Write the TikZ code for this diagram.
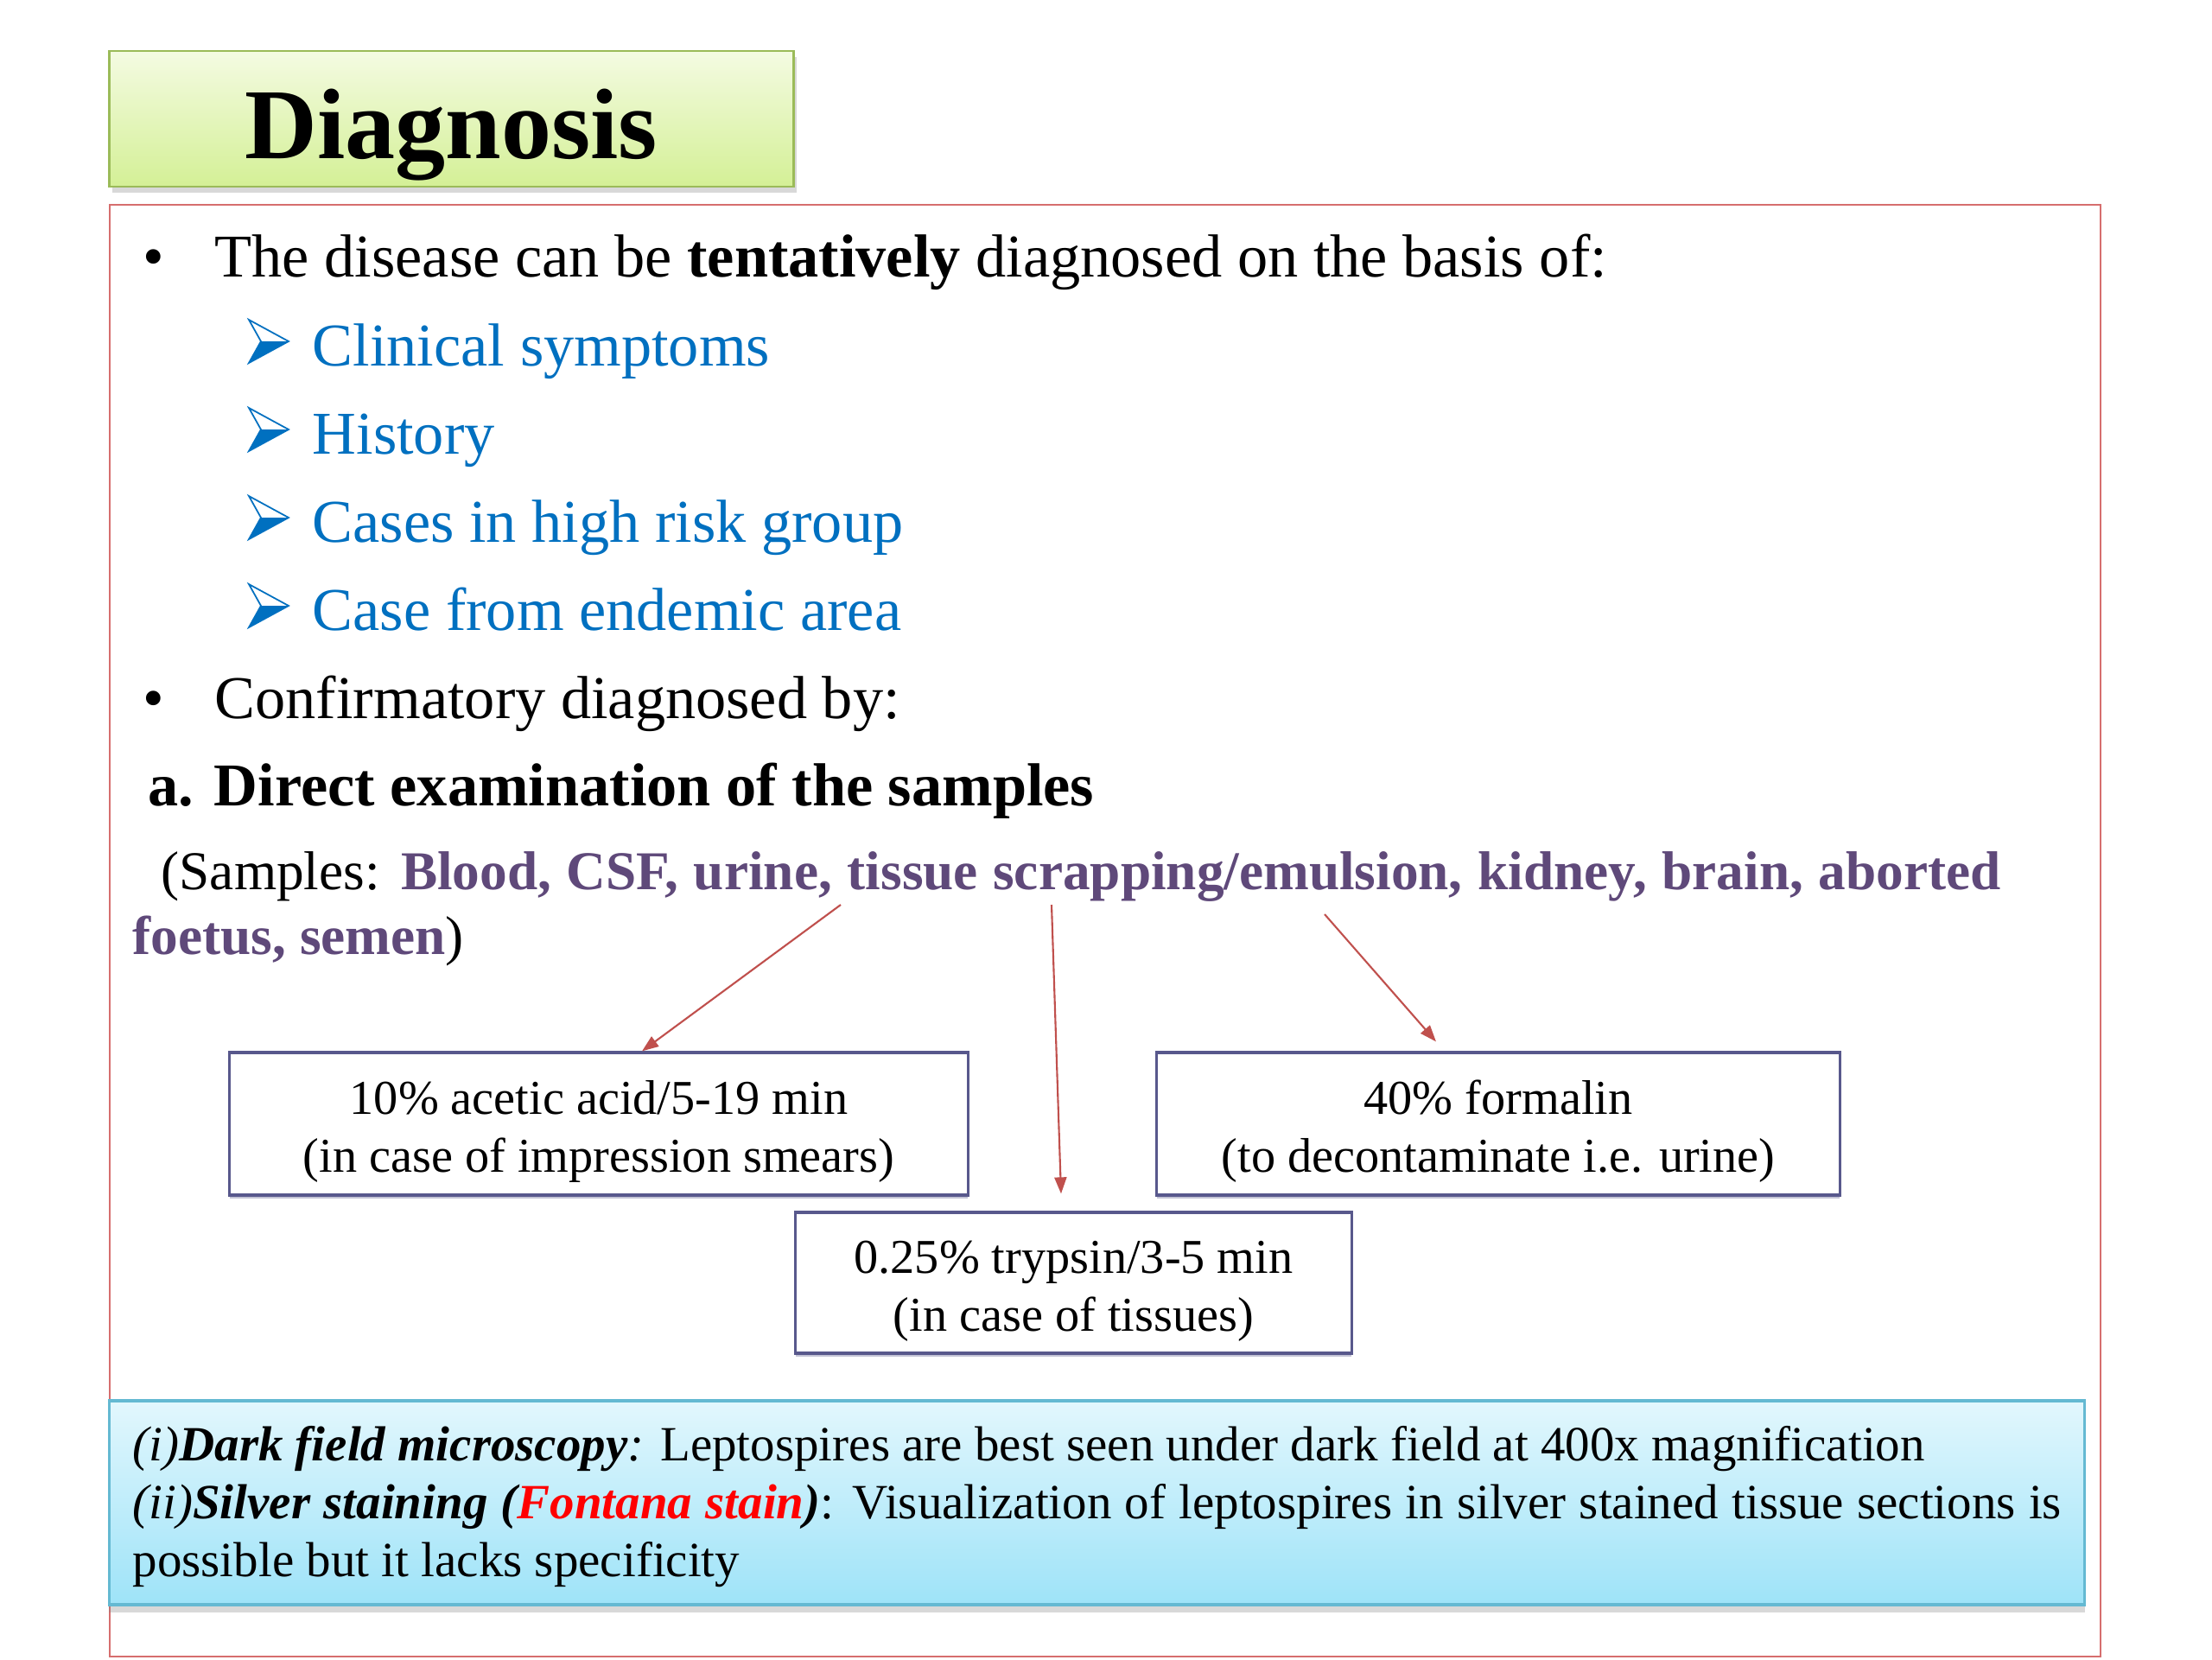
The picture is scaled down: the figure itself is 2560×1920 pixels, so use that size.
\documentclass[tikz,border=0pt]{standalone}
\usepackage{fontspec}
\setmainfont{Liberation Serif}
\usetikzlibrary{shadows,arrows.meta}
\definecolor{tblue}{RGB}{0,112,192}
\definecolor{tpurple}{RGB}{95,73,122}
\definecolor{arred}{RGB}{192,80,77}
\definecolor{framered}{RGB}{214,110,110}
\definecolor{boxline}{RGB}{88,88,140}
\definecolor{titletop}{RGB}{244,251,226}
\definecolor{titlebot}{RGB}{212,240,150}
\definecolor{titleline}{RGB}{155,187,89}
\definecolor{bluetop}{RGB}{226,247,253}
\definecolor{bluebot}{RGB}{158,227,248}
\definecolor{blueline}{RGB}{100,185,210}
\tikzset{
  txt/.style={anchor=base west, inner sep=0pt},
  main/.style={txt, font=\fontsize{20}{24}\selectfont},
  sub/.style={main, text=tblue},
  stepbox/.style={draw=boxline, line width=0.9pt, fill=white, align=center,
    inner sep=0pt, font=\fontsize{16}{19}\selectfont,
    drop shadow={shadow xshift=0pt, shadow yshift=-1.2pt, opacity=0.35, fill=boxline}},
  arr/.style={draw=arred, line width=0.6pt, -{Triangle[length=0.19cm,width=0.14cm]}, arred},
  infotxt/.style={txt, font=\fontsize{16.2}{19}\selectfont},
  pics/ptrmark/.style={code={
    \fill[tblue] (14,0) -- (46,0) -- (0,25) -- cycle;
    \draw[tblue, line width=0.5pt, line join=miter] (14,0) -- (0,-25) -- (46,0) -- (0,25) -- cycle;
  }},
}
\begin{document}
\begin{tikzpicture}[x=0.01cm,y=-0.01cm]
\path[use as bounding box, fill=white] (0,0) rectangle (2560,1920);
% frame
\draw[framered, line width=0.6pt] (127,237) rectangle (2431,1917);
% title
\node[draw=titleline, line width=0.8pt, top color=titletop, bottom color=titlebot,
  minimum width=7.91cm, minimum height=1.57cm, inner sep=0pt,
  drop shadow={shadow xshift=1pt, shadow yshift=-2pt, opacity=0.3}] (title) at (522.5,137.5) {};
\node[anchor=base, inner sep=0pt, font=\fontsize{33}{40}\selectfont\bfseries] (titletxt) at (522.5,183) {Diagnosis};
% bullets
\node[main] (b1) at (165,320) {•};
\node[main] (l1) at (248,320) {The disease can be \textbf{tentatively} diagnosed on the basis of:};
\pic at (288,395) {ptrmark};
\node[sub] (s1) at (361,423) {Clinical symptoms};
\pic at (288,497) {ptrmark};
\node[sub] (s2) at (361,525) {History};
\pic at (288,599) {ptrmark};
\node[sub] (s3) at (361,627) {Cases in high risk group};
\pic at (288,701) {ptrmark};
\node[sub] (s4) at (361,729) {Case from endemic area};
\node[main] (b2) at (165,831) {•};
\node[main] (l2) at (248,831) {Confirmatory diagnosed by:};
\node[main, font=\fontsize{20}{24}\selectfont\bfseries] (l3) at (171,932) {a. Direct examination of the samples};
\node[txt, font=\fontsize{18}{22}\selectfont] (l4) at (186,1029) {\makebox[21.28cm][s]{(Samples: \textcolor{tpurple}{\textbf{Blood, CSF, urine, tissue scrapping/emulsion, kidney, brain, aborted}}}};
\node[txt, font=\fontsize{18}{22}\selectfont] (l5) at (153,1104) {\textcolor{tpurple}{\textbf{foetus, semen}})};
% boxes
\node[stepbox, minimum width=8.54cm, minimum height=1.65cm] (bx1) at (693,1300.5) {\rule{0pt}{16pt}10\% acetic acid/5-19 min\\(in case of impression smears)};
\node[stepbox, minimum width=7.90cm, minimum height=1.65cm] (bx2) at (1734,1300.5) {\rule{0pt}{16pt}40\% formalin\\(to decontaminate i.e. urine)};
\node[stepbox, minimum width=6.43cm, minimum height=1.63cm] (bx3) at (1242.5,1484.5) {\rule{0pt}{16pt}0.25\% trypsin/3-5 min\\(in case of tissues)};
% arrows
\coordinate (a1) at (973,1047);
\coordinate (a2) at (1217,1047);
\coordinate (a3) at (1533,1058);
\draw[arr] (a1) -- ([xshift=0.5cm]bx1.north);
\draw[arr] (a2) -- ([xshift=-0.145cm,yshift=0.2cm]bx3.north);
\draw[arr] (a3) -- ([xshift=-0.72cm,yshift=0.11cm]bx2.north);
% info box
\node[draw=blueline, line width=1pt, top color=bluetop, bottom color=bluebot,
  minimum width=22.85cm, minimum height=2.36cm, inner sep=0pt,
  drop shadow={shadow xshift=0pt, shadow yshift=-2.5pt, opacity=0.3}] (info) at (1269.5,1739) {};
\node[infotxt] (i1) at (153,1690) {\textit{(i)\textbf{Dark field microscopy}:} Leptospires are best seen under dark field at 400x magnification};
\node[infotxt] (i2) at (153,1757) {\makebox[22.31cm][s]{\textit{(ii)\textbf{Silver staining (\textcolor{red}{Fontana stain})}}: Visualization of leptospires in silver stained tissue sections is}};
\node[infotxt] (i3) at (153,1824) {possible but it lacks specificity};
\end{tikzpicture}
\end{document}
